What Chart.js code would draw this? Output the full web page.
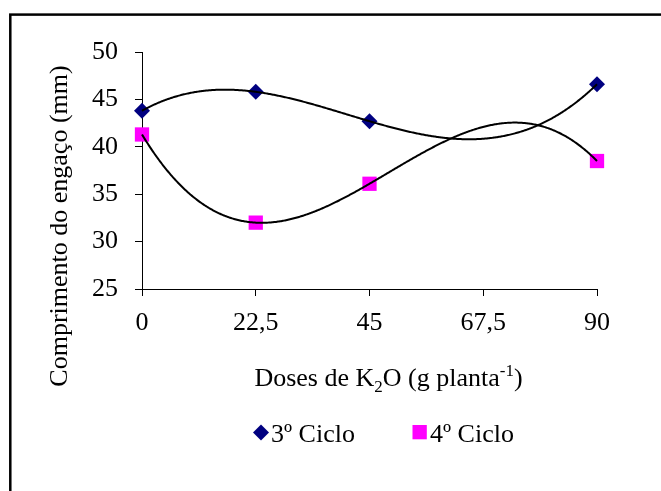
<!DOCTYPE html>
<html>
<head>
<meta charset="utf-8">
<script src="https://cdn.jsdelivr.net/npm/chart.js@4.4.1/dist/chart.umd.min.js"></script>
<style>
  html, body { margin: 0; padding: 0; background: #fff; }
  #wrap { width: 661px; height: 491px; position: relative; }
</style>
</head>
<body>
<div id="wrap"><canvas id="c"></canvas></div>
<script>
// Dados
const doses = [0, 22.5, 45, 90];
const ciclo3 = [43.8, 45.8, 42.7, 46.6];
const ciclo4 = [41.3, 32.0, 36.1, 38.5];
const xTicks = [0, 22.5, 45, 67.5, 90];
const xTickLabels = ['0', '22,5', '45', '67,5', '90'];
const yTicks = [25, 30, 35, 40, 45, 50];
const seriesNames = ['3º Ciclo', '4º Ciclo'];
const seriesColors = ['#000080', '#FF00FF'];

const FONT = '"Liberation Serif", "Times New Roman", serif';

// linha de tendência polinomial (ordem 3, como no Excel), mínimos quadrados
const polyfit = (xs, ys, deg) => {
  const n = deg + 1, A = [], b = [];
  for (let i = 0; i < n; i++) {
    A[i] = [];
    for (let j = 0; j < n; j++) A[i][j] = xs.reduce((s, x) => s + x ** (i + j), 0);
    b[i] = xs.reduce((s, x, k) => s + ys[k] * x ** i, 0);
  }
  for (let i = 0; i < n; i++) {
    let p = i;
    for (let r = i + 1; r < n; r++) if (Math.abs(A[r][i]) > Math.abs(A[p][i])) p = r;
    [A[i], A[p]] = [A[p], A[i]]; [b[i], b[p]] = [b[p], b[i]];
    for (let r = 0; r < n; r++) {
      if (r === i) continue;
      const f = A[r][i] / A[i][i];
      for (let c = i; c < n; c++) A[r][c] -= f * A[i][c];
      b[r] -= f * b[i];
    }
  }
  return b.map((v, i) => v / A[i][i]);
};
const polyVal = (c, u) => c.reduce((s, k, i) => s + k * u ** i, 0);

const toPts = ys => doses.map((d, i) => ({ x: d, y: ys[i] }));

// moldura + fundo
const frame = {
  id: 'frame',
  beforeDraw(chart) {
    const { ctx } = chart;
    ctx.save();
    ctx.fillStyle = '#fff';
    ctx.fillRect(0, 0, chart.width, chart.height);
    ctx.strokeStyle = '#000'; ctx.lineWidth = 2.5;
    ctx.strokeRect(10.3, 14.6, 700, 520);
    ctx.restore();
  }
};

// curvas de tendência por cima dos marcadores
const trend = {
  id: 'trend',
  afterDatasetsDraw(chart) {
    const { ctx, scales: { x, y } } = chart;
    const x0 = x.getPixelForValue(doses[0]), x1 = x.getPixelForValue(doses.at(-1));
    ctx.save();
    ctx.strokeStyle = '#000'; ctx.lineWidth = 2; ctx.lineJoin = 'round';
    [ciclo3, ciclo4].forEach(ys => {
      const c = polyfit(doses.map(d => d / 90), ys, 3);
      ctx.beginPath();
      for (let px = x0; px <= x1 + 0.01; px += 1) {
        const v = x.getValueForPixel(Math.min(px, x1));
        const py = y.getPixelForValue(polyVal(c, v / 90));
        px === x0 ? ctx.moveTo(px, py) : ctx.lineTo(px, py);
      }
      ctx.stroke();
    });
    ctx.restore();
  }
};

// títulos dos eixos e legenda
const extras = {
  id: 'extras',
  afterDraw(chart) {
    const { ctx } = chart;
    ctx.save();
    ctx.fillStyle = '#000';
    ctx.textBaseline = 'alphabetic';

    // título eixo Y
    ctx.save();
    ctx.translate(67, 226);
    ctx.rotate(-Math.PI / 2);
    ctx.font = `26px ${FONT}`;
    ctx.textAlign = 'center';
    ctx.fillText('Comprimento do engaço (mm)', 0, 0);
    ctx.restore();

    // título eixo X com subscrito e sobrescrito
    const parts = [
      ['Doses de K', 26, 0], ['2', 17, 6], ['O (g planta', 26, 0], ['-1', 17, -10], [')', 26, 0]
    ];
    ctx.textAlign = 'left';
    const w = parts.reduce((s, [t, f]) => { ctx.font = `${f}px ${FONT}`; return s + ctx.measureText(t).width; }, 0);
    let xx = 388.5 - w / 2;
    parts.forEach(([t, f, dy]) => {
      ctx.font = `${f}px ${FONT}`;
      ctx.fillText(t, xx, 386 + dy);
      xx += ctx.measureText(t).width;
    });

    // legenda
    ctx.font = `26px ${FONT}`;
    ctx.fillStyle = seriesColors[0];
    ctx.beginPath();
    ctx.moveTo(261, 424.5); ctx.lineTo(269, 432.5); ctx.lineTo(261, 440.5); ctx.lineTo(253, 432.5);
    ctx.closePath(); ctx.fill();
    ctx.fillStyle = '#000';
    ctx.fillText(seriesNames[0], 271, 442);
    ctx.fillStyle = seriesColors[1];
    ctx.fillRect(412.5, 425, 14.3, 14.3);
    ctx.fillStyle = '#000';
    ctx.fillText(seriesNames[1], 430, 442);
    ctx.restore();
  }
};

const axisGrid = { display: true, drawOnChartArea: false, drawTicks: true, tickLength: 7, tickColor: '#000', tickWidth: 1 };

new Chart(document.getElementById('c'), {
  type: 'line',
  data: {
    datasets: [
      { label: seriesNames[0], data: toPts(ciclo3), showLine: false, pointStyle: 'rectRot', pointRadius: 8, pointHoverRadius: 8,
        backgroundColor: seriesColors[0], borderColor: seriesColors[0], borderWidth: 0, clip: false },
      { label: seriesNames[1], data: toPts(ciclo4), showLine: false, pointStyle: 'rect', pointRadius: 10.1, pointHoverRadius: 10.1,
        backgroundColor: seriesColors[1], borderColor: seriesColors[1], borderWidth: 0, clip: false }
    ]
  },
  options: {
    responsive: true, maintainAspectRatio: false, animation: false,
    layout: { padding: { left: 80, top: 52, right: 64, bottom: 152 } },
    plugins: { legend: { display: false }, tooltip: { enabled: false } },
    scales: {
      x: {
        type: 'linear', min: 0, max: 90,
        afterBuildTicks: s => { s.ticks = xTicks.map(v => ({ value: v })); },
        afterFit: s => { s.height = 50; },
        grid: axisGrid,
        border: { display: true, color: '#000', width: 1 },
        ticks: { color: '#000', font: { family: FONT, size: 26 }, padding: 12, maxRotation: 0,
          callback: v => xTickLabels[xTicks.indexOf(v)] }
      },
      y: {
        min: 25, max: 50,
        afterBuildTicks: s => { s.ticks = yTicks.map(v => ({ value: v })); },
        afterFit: s => { s.width = 62; },
        grid: axisGrid,
        border: { display: true, color: '#000', width: 1 },
        ticks: { color: '#000', font: { family: FONT, size: 26 }, padding: 17 }
      }
    }
  },
  plugins: [frame, trend, extras]
});
</script>
</body>
</html>
